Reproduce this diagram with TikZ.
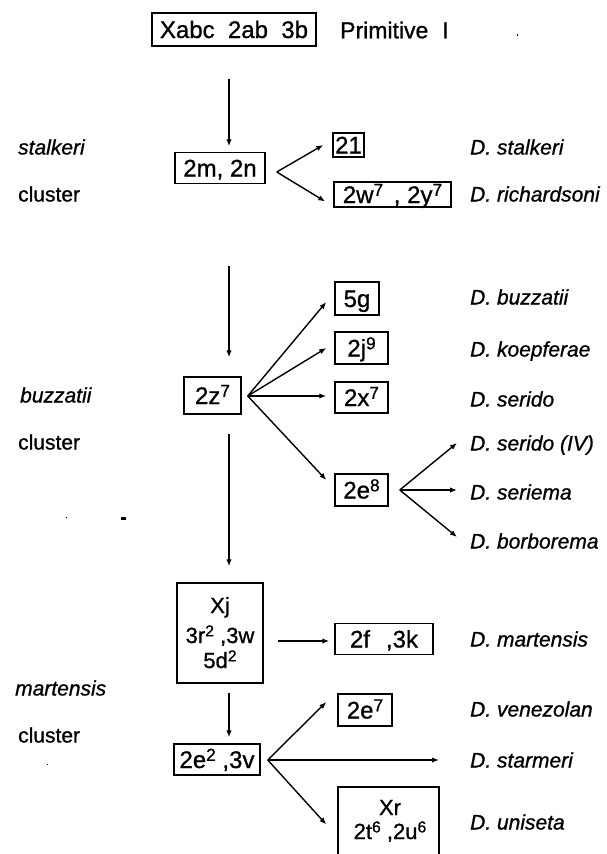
\documentclass[tikz,border=0pt]{standalone}
\usepackage{fontspec}
\setmainfont{Liberation Sans}[FakeBold=0.9]
\usetikzlibrary{arrows.meta,calc}
\newcommand\spx[1]{\raisebox{0.3em}{\scalebox{0.72}{#1}}}
\begin{document}
\begin{tikzpicture}[x=1pt,y=-1pt,
  box/.style={draw, line width=1.5pt, inner sep=0pt, font=\fontsize{24}{24}\selectfont, text height=17pt, text depth=0pt},
  btxt/.style={inner sep=0pt, font=\fontsize{22}{22}\selectfont, text height=16pt, text depth=0pt},
  lab/.style={anchor=west, inner sep=0pt, font=\fontsize{21}{21}\selectfont\itshape, text height=15pt, text depth=0pt},
  clus/.style={anchor=west, inner sep=0pt, font=\fontsize{21}{21}\selectfont, text height=15pt, text depth=0pt},
  arr/.style={line width=1.4pt, -{Latex[length=7pt,width=5.5pt]}}
]
\clip (0,0) rectangle (606,854);
\fill[white] (0,0) rectangle (606,854);

% boxes
\node[box, minimum width=164, minimum height=33] (top) at (234,29.5) {Xabc~~2ab~~3b};
\node[clus, font=\fontsize{23}{23}\selectfont, text height=16.5pt] (prim) at (340,30) {Primitive\hspace{14pt}I};
\node[box, minimum width=90, minimum height=31] (mn) at (220,168) {2m, 2n};
\node[box, minimum width=31, minimum height=24] (b21) at (348.5,145) {21};
\node[box, minimum width=117, minimum height=25] (wy) at (392.5,194.5) {2w\spx{7}\,\ ,\ 2y\spx{7}};
\node[box, minimum width=44, minimum height=33] (g5) at (357,298.5) {5g};
\node[box, minimum width=53, minimum height=32] (j9) at (361.5,348) {2j\spx{9}};
\node[box, minimum width=53, minimum height=31] (x7) at (361.5,397.5) {2x\spx{7}};
\node[box, minimum width=53, minimum height=32] (e8) at (361.5,490) {2e\spx{8}};
\node[box, minimum width=57, minimum height=37] (z7) at (212.5,395.5) {2z\spx{7}};
\node[box, minimum width=86, minimum height=100] (xj) at (220,633) {};
\node[btxt] (xjt1) at (220,605) {Xj};
\node[btxt] (xjt2) at (220,635) {3r\spx{2} ,3w};
\node[btxt] (xjt3) at (220,660) {5d\spx{2}};
\node[box, minimum width=98, minimum height=31] (f3k) at (384,639) {2f\hspace{16pt},3k};
\node[box, minimum width=86, minimum height=31] (e2) at (217,759.5) {2e\spx{2} ,3v};
\node[box, minimum width=54, minimum height=32] (e7) at (365,710) {2e\spx{7}};
\node[box, minimum width=101, minimum height=75] (xr) at (388.5,824.5) {};
\node[btxt] (xrt1) at (390,807) {Xr};
\node[btxt] (xrt2) at (390,831) {2t\spx{6} ,2u\spx{6}};

% species labels
\node[lab] (sp1) at (470,147) {D. stalkeri};
\node[lab] (sp2) at (470,194) {D. richardsoni};
\node[lab] (sp3) at (470,297) {D. buzzatii};
\node[lab] (sp4) at (470,349) {D. koepferae};
\node[lab] (sp5) at (470,399) {D. serido};
\node[lab] (sp6) at (470,443) {D. serido (IV)};
\node[lab] (sp7) at (470,492) {D. seriema};
\node[lab] (sp8) at (470,541) {D. borborema};
\node[lab] (sp9) at (470,639) {D. martensis};
\node[lab] (sp10) at (470,709) {D. venezolan};
\node[lab] (sp11) at (470,760) {D. starmeri};
\node[lab] (sp12) at (470,822) {D. uniseta};

% cluster labels
\node[lab] (c1a) at (18,147) {stalkeri};
\node[clus] (c1b) at (18,194) {cluster};
\node[lab] (c2a) at (20,395) {buzzatii};
\node[clus] (c2b) at (18,442) {cluster};
\node[lab] (c3a) at (15,688) {martensis};
\node[clus] (c3b) at (18,735) {cluster};

% connectors
\draw[arr] ($(top.south)+(-5,32)$) -- ($(mn.north)+(9,-5.5)$);
\draw[arr] ($(mn.east)+(11,4)$) -- ($(b21.west)+(-9,0)$);
\draw[arr] ($(mn.east)+(11,4)$) -- ($(wy.west)+(-8,7)$);
\draw[arr] ($(mn.south)+(9,82)$) -- ($(z7.north)+(16.5,-19)$);
\draw[arr] ($(z7.east)+(6,0.5)$) -- ($(g5.west)+(-8,3.5)$);
\draw[arr] ($(z7.east)+(6,0.5)$) -- ($(j9.west)+(-8,0)$);
\draw[arr] ($(z7.east)+(6,0.5)$) -- ($(x7.west)+(-8,-1.5)$);
\draw[arr] ($(z7.east)+(6,0.5)$) -- ($(e8.west)+(-8,-10)$);
\draw[arr] ($(e8.east)+(11,0)$) -- ($(sp6.west)+(-13,0)$);
\draw[arr] ($(e8.east)+(11,0)$) -- ($(sp7.west)+(-13,-2)$);
\draw[arr] ($(e8.east)+(11,0)$) -- ($(sp8.west)+(-13,-4)$);
\draw[arr] ($(z7.south)+(16.5,19)$) -- ($(xj.north)+(9,-16)$);
\draw[arr] ($(xj.east)+(14,8)$) -- ($(f3k.west)+(-5,2)$);
\draw[arr] ($(xj.south)+(9,9)$) -- ($(e2.north)+(12,-6)$);
\draw[arr] ($(e2.east)+(7,0.5)$) -- ($(e7.west)+(-11,-8)$);
\draw[arr] ($(e2.east)+(7,0.5)$) -- ($(sp11.west)+(-31,0)$);
\draw[arr] ($(e2.east)+(7,0.5)$) -- ($(xr.west)+(-11,0)$);

% stray marks
\fill (121,516.5) rectangle (125.5,519.5);
\fill (65.5,516.5) rectangle (67,518);
\fill (516.5,34) rectangle (518,35.5);
\fill (46.5,763.5) rectangle (47.5,764.5);
\end{tikzpicture}
\end{document}
